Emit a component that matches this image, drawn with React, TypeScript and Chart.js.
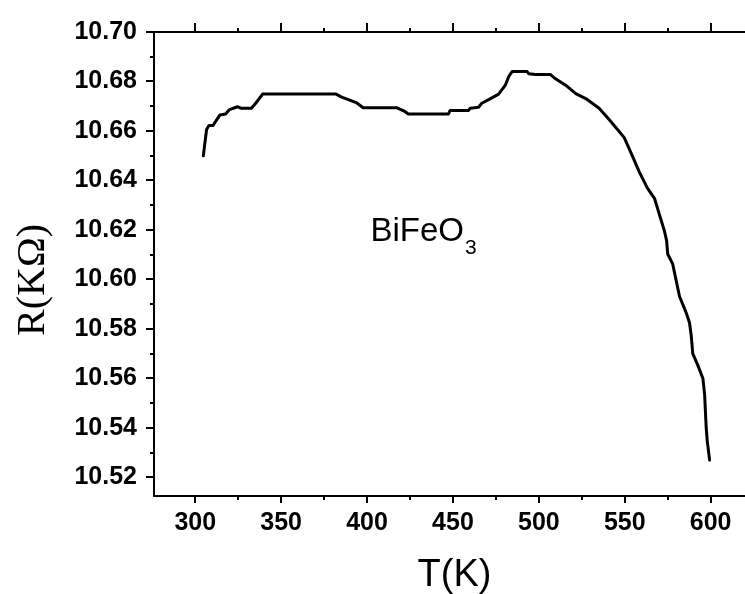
import React, { useEffect, useRef } from "react";
import { Chart, registerables } from "chart.js";

Chart.register(...registerables);

// Temperature (K)
const temperatureK = [
  304.7, 306.6, 308.0, 310.4, 311.9, 314.4, 317.7, 319.7, 322.2, 324.6, 326.5, 332.7,
  335.2, 339.2, 382.0, 384.9, 389.9, 393.7, 397.7, 417.1, 422.0, 424.0, 447.4, 448.4,
  459.1, 460.1, 464.9, 466.8, 470.8, 473.7, 476.6, 480.5, 482.5, 484.4, 493.2, 494.2,
  498.1, 506.8, 509.7, 515.6, 521.5, 527.3, 535.1, 540.9, 545.8, 549.7, 553.6, 558.5,
  563.3, 567.3, 570.2, 573.1, 574.4, 575.0, 577.9, 579.9, 581.9, 585.8, 587.7, 588.7,
  589.6, 592.5, 595.5, 596.5, 597.4, 598.0, 599.4,
];

// Resistance R (kOhm)
const resistanceKOhm = [
  10.650, 10.6606, 10.6622, 10.6622, 10.6639, 10.6665, 10.6669, 10.6685, 10.6692, 10.6698, 10.6692, 10.6692,
  10.6712, 10.6749, 10.6749, 10.6738, 10.6725, 10.6715, 10.6694, 10.6694, 10.6679, 10.6669, 10.6669, 10.6683,
  10.6683, 10.6692, 10.6696, 10.6712, 10.6727, 10.6738, 10.6749, 10.6785, 10.6820, 10.6840, 10.6840, 10.6831,
  10.6828, 10.6828, 10.6811, 10.6785, 10.6751, 10.6731, 10.6692, 10.6646, 10.6606, 10.6573, 10.6513, 10.6434,
  10.6368, 10.6328, 10.6262, 10.6196, 10.6156, 10.6103, 10.6063, 10.5997, 10.5931, 10.5865, 10.5825, 10.5773,
  10.5700, 10.5654, 10.5600, 10.5535, 10.5402, 10.5349, 10.5270,
];

const xMajorTicks = [300, 350, 400, 450, 500, 550, 600];
const xMinorTicks = [325, 375, 425, 475, 525, 575];
const yMajorTicks = [10.52, 10.54, 10.56, 10.58, 10.6, 10.62, 10.64, 10.66, 10.68, 10.7];
const yMinorTicks = [10.53, 10.55, 10.57, 10.59, 10.61, 10.63, 10.65, 10.67, 10.69];

const xRange = [276, 620];
const yRange = [10.5125, 10.7];

const sampleLabel = "BiFeO";
const sampleSub = "3";
const sampleAt = { x: 402, y: 10.6155 };

const xTitle = "T(K)";
const yTitle = "R(KΩ)";

const SANS = "'Liberation Sans', Arial, sans-serif";
const SERIF = "'Liberation Serif', 'Times New Roman', serif";

const decorPlugin = {
  id: "decor",
  afterDraw(chart: any) {
    const { ctx, chartArea: a, scales } = chart;
    const x = scales.x;
    const y = scales.y;
    ctx.save();
    ctx.strokeStyle = "#000";
    ctx.lineWidth = 2;
    ctx.beginPath();
    // top axis line
    ctx.moveTo(a.left - 1, a.top);
    ctx.lineTo(a.right, a.top);
    const xt = (v: number, down: number, up: number) => {
      const px = Math.round(x.getPixelForValue(v));
      ctx.moveTo(px, a.bottom);
      ctx.lineTo(px, a.bottom + down);
      ctx.moveTo(px, a.top);
      ctx.lineTo(px, a.top - up);
    };
    xMajorTicks.forEach((v) => xt(v, 7, 9));
    xMinorTicks.forEach((v) => xt(v, 4, 4));
    const yt = (v: number, len: number) => {
      const py = Math.round(y.getPixelForValue(v));
      ctx.moveTo(a.left, py);
      ctx.lineTo(a.left - len, py);
    };
    yMajorTicks.forEach((v) => yt(v, 8));
    yMinorTicks.forEach((v) => yt(v, 4));
    ctx.stroke();

    ctx.fillStyle = "#000";

    // sample label
    const px = x.getPixelForValue(sampleAt.x);
    const py = y.getPixelForValue(sampleAt.y);
    ctx.textBaseline = "alphabetic";
    ctx.textAlign = "left";
    ctx.font = `33px ${SANS}`;
    ctx.fillText(sampleLabel, px, py);
    const w = ctx.measureText(sampleLabel).width;
    ctx.font = `21px ${SANS}`;
    ctx.fillText(sampleSub, px + w + 1, py + 13);

    // x title
    ctx.font = `38px ${SANS}`;
    ctx.textAlign = "center";
    ctx.textBaseline = "alphabetic";
    ctx.fillText(xTitle, (a.left + a.right) / 2 + 5, a.bottom + 90);

    // y title
    ctx.save();
    ctx.translate(33, (a.top + a.bottom) / 2 + 16);
    ctx.rotate(-Math.PI / 2);
    ctx.font = `40px ${SERIF}`;
    ctx.textAlign = "center";
    ctx.textBaseline = "middle";
    ctx.fillText(yTitle, 0, 0);
    ctx.restore();

    ctx.restore();
  },
};

export default function App() {
  const canvasRef = useRef<HTMLCanvasElement | null>(null);

  useEffect(() => {
    if (!canvasRef.current) return;
    const tickFont = { family: SANS, size: 25, weight: "bold" as const };
    const chart = new Chart(canvasRef.current, {
      type: "line",
      data: {
        datasets: [
          {
            data: temperatureK.map((t, i) => ({ x: t, y: resistanceKOhm[i] })),
            borderColor: "#000",
            borderWidth: 3,
            pointRadius: 0,
            tension: 0,
            fill: false,
            borderJoinStyle: "round",
            borderCapStyle: "round",
          },
        ],
      },
      options: {
        responsive: false,
        animation: false,
        layout: { padding: { top: 24, right: 0, left: 0, bottom: 0 } },
        plugins: { legend: { display: false }, tooltip: { enabled: false } },
        scales: {
          x: {
            type: "linear",
            min: xRange[0],
            max: xRange[1],
            afterBuildTicks: (s: any) => {
              s.ticks = xMajorTicks.map((v) => ({ value: v }));
            },
            afterFit: (s: any) => {
              s.height = 98;
            },
            grid: { display: false, drawTicks: false },
            border: { display: true, color: "#000", width: 2 },
            ticks: { color: "#000", font: tickFont, padding: 12, maxRotation: 0, autoSkip: false },
          },
          y: {
            type: "linear",
            min: yRange[0],
            max: yRange[1],
            afterBuildTicks: (s: any) => {
              s.ticks = yMajorTicks.map((v) => ({ value: v }));
            },
            afterFit: (s: any) => {
              s.width = 154;
            },
            grid: { display: false, drawTicks: false },
            border: { display: true, color: "#000", width: 2 },
            ticks: {
              color: "#000",
              font: tickFont,
              padding: 17,
              autoSkip: false,
              callback: (v: any) => Number(v).toFixed(2),
            },
          },
        },
      },
      plugins: [decorPlugin],
    });
    return () => chart.destroy();
  }, []);

  return (
    <div style={{ position: "absolute", left: 0, top: 0, width: 745, height: 594, background: "#fff" }}>
      <canvas ref={canvasRef} width={745} height={594} />
    </div>
  );
}
